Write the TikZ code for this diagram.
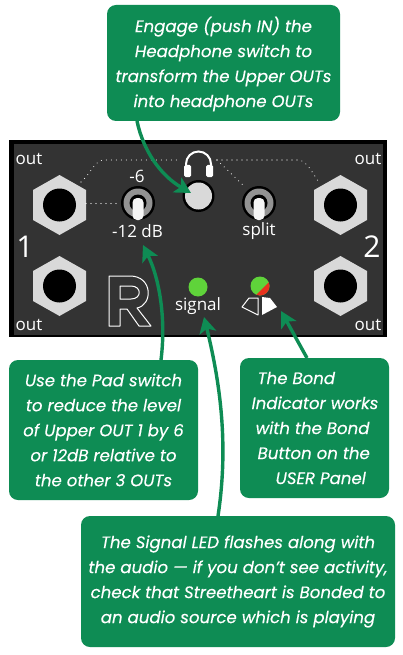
\documentclass[tikz,border=0pt]{standalone}
\usepackage{fontspec}
\setmainfont{Open Sans}
\newfontfamily\callfont[ItalicFeatures={FakeBold=0.25}]{Poppins}
\usetikzlibrary{arrows.meta}
\definecolor{cgreen}{HTML}{0E8C54}
\definecolor{panel}{HTML}{333333}
\definecolor{nut}{HTML}{D9D9D9}
\definecolor{led}{HTML}{5FD33A}
\definecolor{ledr}{HTML}{E8321E}
\tikzset{
 x=1pt,y=-1pt,
 callout/.style={draw=none,fill=cgreen,rounded corners=9pt,inner sep=0pt},
 ctext/.style={text=white,align=center,font=\fontsize{16.6}{25}\callfont\itshape,inner sep=0pt},
 ptext/.style={text=white,inner sep=0pt,font=\fontsize{17}{17}\selectfont},
 bigtext/.style={text=white,inner sep=0pt,font=\fontsize{30}{30}\selectfont},
 garrow/.style={draw=cgreen,line width=3.4pt,-{Stealth[length=16pt,width=17pt,inset=4pt]}},
 dots/.style={draw=white,line width=1.1pt,line cap=round,dash pattern=on 0pt off 5pt},
}
\newcommand{\jack}[3]{%
 \fill[nut] (#1,#2-30) -- (#1+26.5,#2-15) -- (#1+26.5,#2+15) -- (#1,#2+30) -- (#1-26.5,#2+15) -- (#1-26.5,#2-15) -- cycle;
 \fill[black] (#1,#2) circle (16.5);
 \coordinate (#3) at (#1,#2);}
\newcommand{\toggle}[3]{%
 \fill[black] (#1,#2) circle (17);
 \fill[gray!85] (#1,#2) circle (14.5);
 \fill[black] (#1,#2) circle (8.5);
 \fill[white!92!gray,rounded corners=4.5pt] (#1-5.5,#2-5) rectangle (#1+5.5,#2+17);
 \coordinate (#3) at (#1,#2);}
\begin{document}
\begin{tikzpicture}
\useasboundingbox (0,0) rectangle (403,655);
\fill[white] (0,0) rectangle (403,655);
% panel
\fill[black] (9,140) rectangle (387,337);
\fill[panel] (14,144) rectangle (383,335);
\jack{59.5}{205}{jA}
\jack{59.5}{286}{jB}
\jack{340.5}{205}{jC}
\jack{340.5}{286}{jD}
\toggle{138}{203}{tA}
\toggle{259}{203}{tB}
% dots
\draw[dots] (81,182) .. controls (92,172) and (95,160) .. (104,160) -- (180,160);
\draw[dots] (86,203.5) -- (118,203.5);
\draw[dots] (217,160) -- (298,160) .. controls (306,160) and (312,172) .. (318,181);
\draw[dots] (217,160) -- (245,187);
% headphones
\draw[white,line width=2pt] (186,166) -- (186,164) arc[start angle=180,end angle=360,radius=12.5] -- (211,166);
\fill[white,rounded corners=1.5pt] (184,165) rectangle (191,177);
\fill[white,rounded corners=1.5pt] (206,165) rectangle (213,177);
% button
\fill[black] (198.5,196) circle (16);
\fill[nut] (198.5,196) circle (13.5);
\coordinate (btn) at (191,193);
% LEDs
\fill[led] (198,287) circle (9.5);
\fill[led] (260,286) circle (9.5);
\begin{scope}
\clip (260,286) circle (9.5);
\fill[ledr] (250,301) -- (272,279) -- (272,301) -- cycle;
\end{scope}
% bond icon
\draw[white,line width=1pt,line join=round] (258,298) -- (249,298) -- (242,307) -- (258,315) -- cycle;
\fill[white] (262,297) -- (270,298) -- (277,307) -- (262,315) -- cycle;
% labels
\node[ptext] (o1) at (29,159) {out};
\node[ptext] (o2) at (29,325) {out};
\node[ptext] (o3) at (368,159) {out};
\node[ptext] (o4) at (368,325) {out};
\node[bigtext] (n1) at (25,247) {1};
\node[bigtext] (n2) at (372,247) {2};
\node[ptext] (l6) at (137,176) {-6};
\node[ptext] (l12) at (137.5,231) {-12 dB};
\node[ptext] (ls) at (259,231) {split};
\node[ptext] (lsig) at (198,306) {signal};
% R
\draw[white,line width=1pt,line join=round]
 (109,276) -- (130,276) .. controls (153,276) and (153,305) .. (137,308) -- (151,326) -- (139,326) -- (127,309) -- (120,309) -- (120,326) -- (109,326) -- cycle
 (120,286) -- (120,299) -- (131,299) .. controls (142,299) and (142,286) .. (131,286) -- cycle;
% callouts
\node[callout,minimum width=233pt,minimum height=116pt] (c1) at (223.5,63) {};
\node[ctext] at (223.5,64) {Engage (push IN) the\\Headphone switch to\\transform the Upper OUTs\\into headphone OUTs};
\node[callout,minimum width=189pt,minimum height=140pt] (c2) at (103.5,430) {};
\node[ctext] at (c2) {Use the Pad switch\\to reduce the level\\of Upper OUT 1 by 6\\or 12dB relative to\\the other 3 OUTs};
\node[callout,minimum width=149pt,minimum height=140pt] (c3) at (314.5,428) {};
\node[ctext,align=left] at (315,428) {\hspace*{6pt}The Bond\\Indicator works\\\hspace*{4pt}with the Bond\\\hspace*{6pt}Button on the\\\hspace*{24pt}USER Panel};
\node[callout,minimum width=314pt,minimum height=131pt] (c4) at (238,581.5) {};
\node[ctext] at (c4) {The Signal LED flashes along with\\the audio — if you don’t see activity,\\check that Streetheart is Bonded to\\an audio source which is playing};
% arrows
\coordinate (a1) at (137,121);
\coordinate (a2) at (161,360);
\coordinate (a2t) at (143,245);
\coordinate (a3) at (218,516);
\coordinate (a3t) at (204,317);
\coordinate (a4) at (307,358);
\coordinate (a4t) at (281,311);
\draw[garrow] (a1) .. controls (143,150) and (160,175) .. (btn);
\draw[garrow] (a2) .. controls (166,320) and (160,280) .. (a2t);
\draw[garrow] (a3) .. controls (228,450) and (222,390) .. (a3t);
\draw[garrow] (a4) -- (a4t);
\end{tikzpicture}
\end{document}
